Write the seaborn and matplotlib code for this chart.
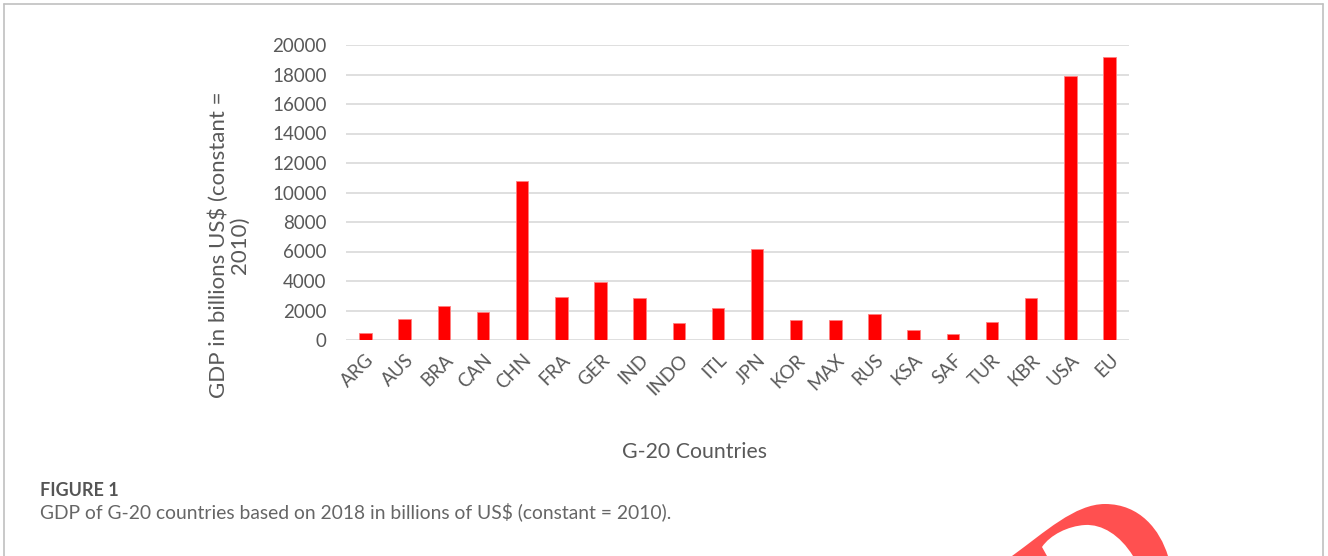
import numpy as np
import pandas as pd
import seaborn as sns
import matplotlib.pyplot as plt
from matplotlib.path import Path
from matplotlib.patches import PathPatch
from matplotlib.lines import Line2D

countries = ['ARG', 'AUS', 'BRA', 'CAN', 'CHN', 'FRA', 'GER', 'IND', 'INDO', 'ITL',
             'JPN', 'KOR', 'MAX', 'RUS', 'KSA', 'SAF', 'TUR', 'KBR', 'USA', 'EU']
gdp = [450, 1420, 2330, 1900, 10800, 2940, 3930, 2840, 1140, 2140,
       6180, 1370, 1330, 1730, 690, 420, 1220, 2870, 17870, 19220]
yticks = list(range(0, 20001, 2000))

df = pd.DataFrame({'country': countries, 'gdp': gdp})

sns.set_style('white')
plt.rcParams['font.family'] = ['Lato', 'DejaVu Sans']

W, H = 1328, 556
fig = plt.figure(figsize=(W / 100, H / 100), dpi=100)
ax = fig.add_axes([346 / W, 1 - 340 / H, (1129 - 346) / W, (340 - 45) / H])

sns.barplot(data=df, x='country', y='gdp', color='#ff0000', saturation=1,
            width=0.32, edgecolor='#ff8080', linewidth=0.6, ax=ax, zorder=3)

ax.set_ylim(0, 20000)
ax.set_yticks(yticks)
ax.set_xlim(-0.5, len(countries) - 0.5)
ax.grid(axis='y', color='#d9d9d9', linewidth=1.2, zorder=0)
ax.set_axisbelow(True)
for s in ax.spines.values():
    s.set_visible(False)
ax.tick_params(axis='both', length=0, labelcolor='#595959', labelsize=13.5)
ax.tick_params(axis='y', pad=14)
plt.setp(ax.get_xticklabels(), rotation=45, ha='right', rotation_mode='anchor')
ax.tick_params(axis='x', pad=8)

ax.set_xlabel('')
ax.set_ylabel('GDP in billions US$ (constant =\n2010)', fontsize=16, color='#595959',
              linespacing=1.05)
ax.yaxis.set_label_coords((250 - 346) / (1129 - 346), (340 - 245) / (340 - 45))

fig.text(695 / W, 1 - 452 / H, 'G-20 Countries', fontsize=15.3, color='#595959',
         ha='center', va='center')

fig.text(40 / W, 1 - 491 / H, 'FIGURE 1', fontsize=13, fontweight='bold',
         color='#555555', ha='left', va='center')
fig.text(40 / W, 1 - 512 / H,
         'GDP of G-20 countries based on 2018 in billions of US$ (constant = 2010).',
         fontsize=13.9, color='#666666', ha='left', va='center')

# frame around the figure panel
for xs, ys in [([4, 4], [556, 4]), ([4, 1323], [4, 4]), ([1323, 1323], [4, 556])]:
    fig.add_artist(Line2D([x / W for x in xs], [1 - y / H for y in ys],
                          color='#c0c0c0', linewidth=1.2, transform=fig.transFigure))

# red swoosh in the lower right corner
C = Path.CURVE4
pts = [(1012, 556),
       (1045, 532), (1075, 504), (1105, 504),
       (1140, 504), (1160, 530), (1168, 556),
       (1133, 556),
       (1120, 535), (1102, 524), (1085, 525),
       (1068, 526), (1050, 535), (1042, 547),
       (1047, 556), (1012, 556)]
codes = [Path.MOVETO, C, C, C, C, C, C, Path.LINETO, C, C, C, C, C, C,
         Path.LINETO, Path.CLOSEPOLY]
verts = [(x / W, 1 - y / H) for x, y in pts]
fig.add_artist(PathPatch(Path(verts, codes), facecolor='#ff5050', edgecolor='none',
                         transform=fig.transFigure))

fig.savefig('out.png', dpi=100, facecolor='white')
